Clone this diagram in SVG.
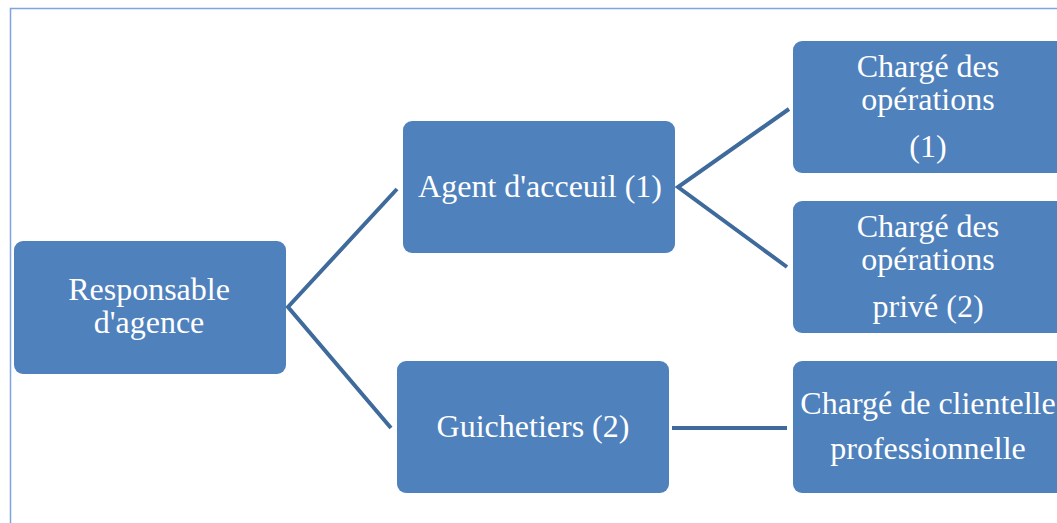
<svg xmlns="http://www.w3.org/2000/svg" width="1057" height="523" viewBox="0 0 1057 523">
<style>
.box{fill:#4F81BD;}
.t{font-family:"Liberation Serif","Times New Roman",serif;font-size:32px;fill:#ffffff;text-anchor:middle;}
.c{stroke:#3F6A9C;stroke-width:4;fill:none;}
</style>
<rect width="1057" height="523" fill="#ffffff"/>
<path d="M10.5,523 V8.5 H1057" fill="none" stroke="#7BA4E0" stroke-width="1.5"/>
<g id="connectors">
<polyline class="c" points="397,189 288,307 391,428"/>
<polyline class="c" points="789,109 678,187 787,267"/>
<line class="c" x1="672" y1="428" x2="787" y2="428"/>
</g>
<g id="responsable">
<rect class="box" x="14" y="241" width="272" height="133" rx="9"/>
<text class="t" x="149" y="300">Responsable</text>
<text class="t" x="149" y="333">d'agence</text>
</g>
<g id="agent">
<rect class="box" x="403" y="121" width="272" height="132" rx="9"/>
<text class="t" x="540" y="197">Agent d'acceuil (1)</text>
</g>
<g id="guichetiers">
<rect class="box" x="397" y="361" width="272" height="132" rx="9"/>
<text class="t" x="533" y="437">Guichetiers (2)</text>
</g>
<g id="charge-ops-1">
<rect class="box" x="793" y="41" width="272" height="132" rx="9"/>
<text class="t" x="928" y="77">Chargé des</text>
<text class="t" x="928" y="110">opérations</text>
<text class="t" x="928" y="157">(1)</text>
</g>
<g id="charge-ops-2">
<rect class="box" x="793" y="201" width="272" height="132" rx="9"/>
<text class="t" x="928" y="237">Chargé des</text>
<text class="t" x="928" y="270">opérations</text>
<text class="t" x="928" y="317">privé (2)</text>
</g>
<g id="charge-clientelle">
<rect class="box" x="793" y="361" width="272" height="132" rx="9"/>
<text class="t" x="928" y="414">Chargé de clientelle</text>
<text class="t" x="928" y="459">professionnelle</text>
</g>
</svg>
